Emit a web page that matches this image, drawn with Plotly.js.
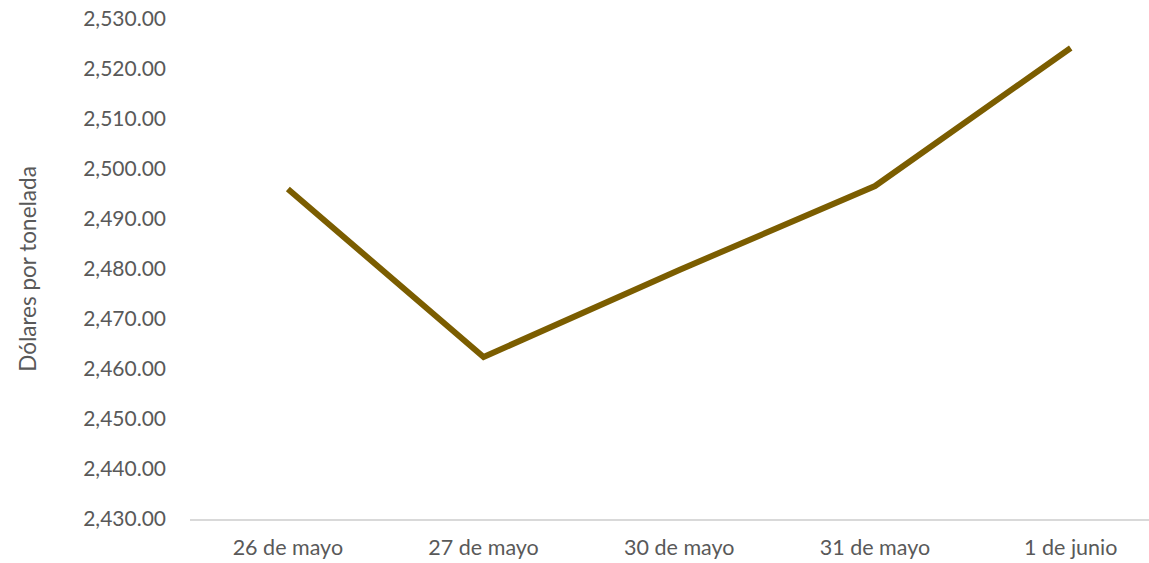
<!DOCTYPE html>
<html>
<head>
<meta charset="utf-8">
<script src="https://cdn.plot.ly/plotly-3.0.1.min.js"></script>
<style>html,body{margin:0;padding:0;background:#fff;}#chart{width:1149px;height:563px;}</style>
</head>
<body>
<div id="chart"></div>
<script>
const categories = ["26 de mayo", "27 de mayo", "30 de mayo", "31 de mayo", "1 de junio"];
const precios = [2496.0, 2462.4, 2479.8, 2496.6, 2524.2];
const yTickValues = [2430, 2440, 2450, 2460, 2470, 2480, 2490, 2500, 2510, 2520, 2530];

const trace = {
  x: categories,
  y: precios,
  type: "scatter",
  mode: "lines",
  line: {color: "#7b5d00", width: 6},
  hoverinfo: "skip"
};

const layout = {
  width: 1149,
  height: 563,
  margin: {l: 190, r: 0, t: 19, b: 44},
  paper_bgcolor: "#ffffff",
  plot_bgcolor: "#ffffff",
  font: {family: "Lato, 'Open Sans', sans-serif", size: 21, color: "#595959"},
  showlegend: false,
  xaxis: {
    type: "category",
    range: [-0.5, 4.4],
    showgrid: false,
    zeroline: false,
    showline: true,
    linecolor: "#d9d9d9",
    linewidth: 2,
    ticks: "",
    tickfont: {size: 21.5, color: "#595959"},
    ticklabelstandoff: 8
  },
  yaxis: {
    range: [2430, 2530],
    tickvals: yTickValues,
    tickformat: ",.2f",
    showgrid: false,
    zeroline: false,
    showline: false,
    ticks: "",
    ticklabelstandoff: 23,
    tickfont: {size: 21, color: "#595959"},
    title: {text: "Dólares por tonelada", font: {size: 22.5, color: "#595959"}, standoff: 40}
  }
};

Plotly.newPlot("chart", [trace], layout, {displayModeBar: false, staticPlot: true});
</script>
</body>
</html>
